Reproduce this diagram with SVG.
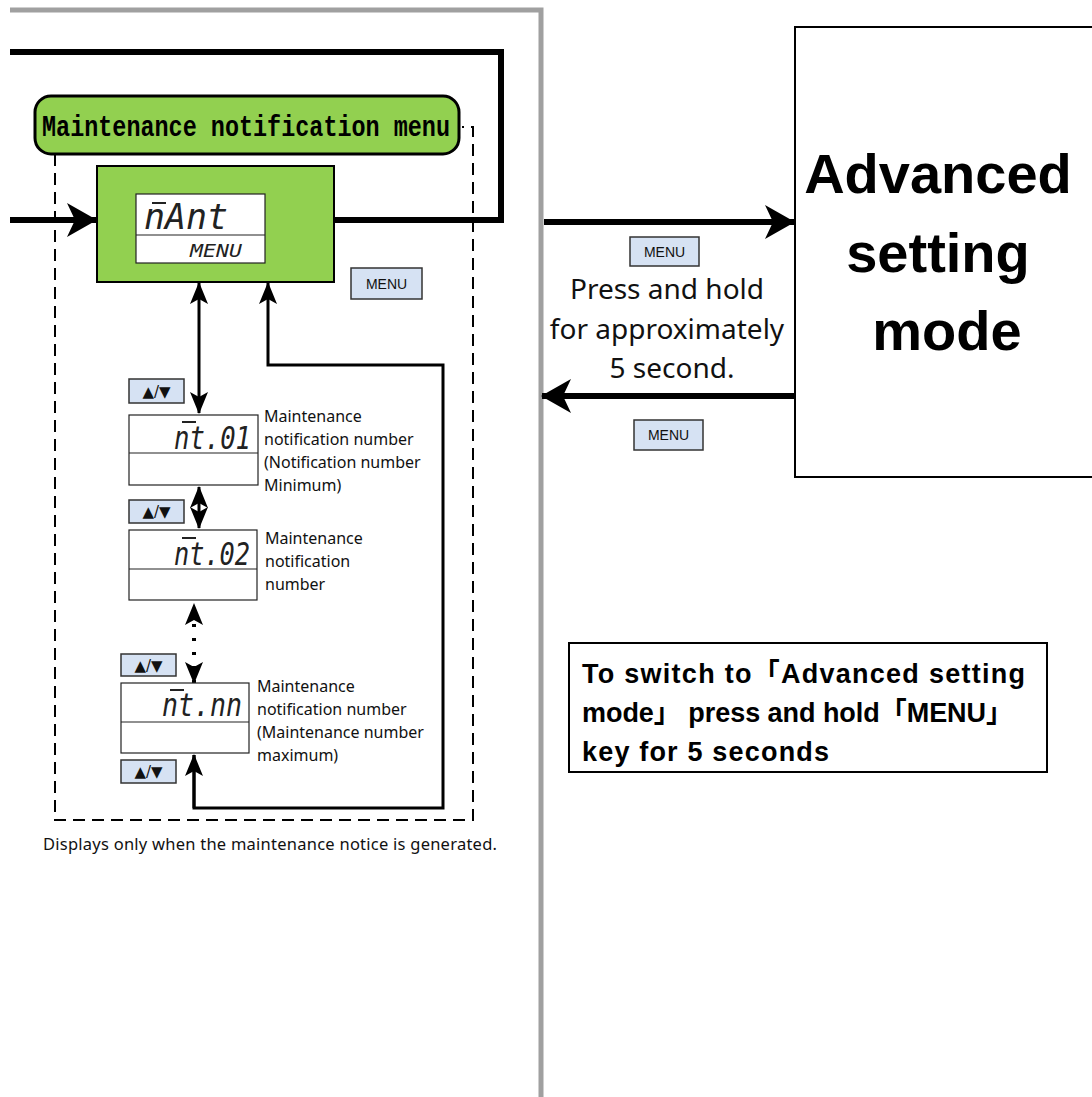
<svg xmlns="http://www.w3.org/2000/svg" width="1092" height="1097" viewBox="0 0 1092 1097">
<defs>
<style>
.lbl{font-family:"Noto Sans","Liberation Sans",sans-serif;font-size:16px;fill:#111}
.key{fill:#d6e2f3;stroke:#333;stroke-width:1.5}
.keyt{font-family:"Liberation Sans",Arial,sans-serif;font-size:14px;fill:#111;text-anchor:middle}
.ud{font-family:"DejaVu Sans",sans-serif;font-size:15px;fill:#111;text-anchor:middle}
.lcd{fill:#fff;stroke:#222;stroke-width:1.2}
.seg{font-family:"DejaVu Sans Mono",monospace;font-style:italic;fill:#222}
.bar{stroke:#222;stroke-width:2}
.thick{stroke:#000;stroke-width:6;fill:none}
.thin{stroke:#000;stroke-width:3;fill:none}
.dash{stroke:#000;stroke-width:2;fill:none;stroke-dasharray:12 7}
</style>
<marker id="big" viewBox="0 0 30 34" refX="29" refY="17" markerWidth="30" markerHeight="34" markerUnits="userSpaceOnUse" orient="auto">
<path d="M0,0 L30,17 L0,34 L8,17 Z" fill="#000"/>
</marker>
<marker id="small" viewBox="0 0 22 18" refX="21" refY="9" markerWidth="22" markerHeight="18" markerUnits="userSpaceOnUse" orient="auto-start-reverse">
<path d="M0,0 L22,9 L0,18 L5,9 Z" fill="#000"/>
</marker>
</defs>
<rect width="1092" height="1097" fill="#fff"/>

<path d="M10,10 H541 V1097" stroke="#a0a0a0" stroke-width="5" fill="none"/>

<g id="connectors">
<path class="thick" d="M10,52 H501 V220 H334"/>
<path class="thick" d="M10,220 H96" marker-end="url(#big)"/>
<path class="thin" d="M199,413 V283" marker-start="url(#small)" marker-end="url(#small)"/>
<path class="thin" d="M199,528 V487" marker-start="url(#small)" marker-end="url(#small)" stroke-width="4"/>
<path d="M194,683 V604" stroke="#000" stroke-width="4" stroke-dasharray="3 11" fill="none" marker-start="url(#small)" marker-end="url(#small)"/>
<path class="thin" d="M194,755 V808 H443 V365 H268 V283" marker-end="url(#small)"/>
<path class="thin" d="M194,808 V755" marker-end="url(#small)"/>
<path class="thick" d="M544,222 H794" marker-end="url(#big)"/>
<path class="thick" d="M795,396 H542" marker-end="url(#big)"/>
<path class="dash" d="M55,154 V820 H473 V127 H462"/>
</g>

<g id="menu-title">
<rect x="35" y="96" width="424" height="58" rx="16" fill="#92d050" stroke="#000" stroke-width="3"/>
<text x="42" y="136" font-family="'Liberation Mono','DejaVu Sans Mono',monospace" font-weight="bold" font-size="29" textLength="408" lengthAdjust="spacingAndGlyphs">Maintenance notification menu</text>
</g>

<g id="mant-node">
<rect x="97" y="166" width="237" height="116" fill="#92d050" stroke="#000" stroke-width="2"/>
<rect class="lcd" x="136" y="194" width="129" height="69"/>
<line x1="136" y1="235" x2="265" y2="235" stroke="#222" stroke-width="1.2"/>
<text class="seg" x="144" y="229" font-size="36" textLength="84" lengthAdjust="spacingAndGlyphs">nAnt</text>
<line class="bar" x1="152" y1="203" x2="166" y2="203"/>
<text class="seg" x="190" y="257" font-size="17" textLength="52" lengthAdjust="spacingAndGlyphs">MENU</text>
</g>

<g id="menu-key-1"><rect class="key" x="351" y="268" width="71" height="31"/><text class="keyt" x="386.5" y="289">MENU</text></g>

<g id="updown-1"><rect class="key" x="129" y="379" width="55" height="24"/><text class="ud" x="156.5" y="397">▲/▼</text></g>
<g id="updown-2"><rect class="key" x="129" y="500" width="55" height="23"/><text class="ud" x="156.5" y="517">▲/▼</text></g>
<g id="updown-3"><rect class="key" x="121" y="654" width="55" height="22"/><text class="ud" x="148.5" y="671">▲/▼</text></g>
<g id="updown-4"><rect class="key" x="121" y="760" width="55" height="23"/><text class="ud" x="148.5" y="777">▲/▼</text></g>

<g id="nt01">
<rect class="lcd" x="129" y="415" width="129" height="70"/>
<line x1="129" y1="453" x2="258" y2="453" stroke="#222" stroke-width="1.2"/>
<text class="seg" x="174" y="449" font-size="32" textLength="77" lengthAdjust="spacingAndGlyphs">nt.01</text>
<line class="bar" x1="182" y1="422" x2="196" y2="422"/>
<text class="lbl"><tspan x="264" y="422">Maintenance</tspan><tspan x="264" y="445">notification number</tspan><tspan x="264" y="468">(Notification number</tspan><tspan x="264" y="491">Minimum)</tspan></text>
</g>

<g id="nt02">
<rect class="lcd" x="129" y="530" width="128" height="70"/>
<line x1="129" y1="569" x2="257" y2="569" stroke="#222" stroke-width="1.2"/>
<text class="seg" x="174" y="565" font-size="32" textLength="76" lengthAdjust="spacingAndGlyphs">nt.02</text>
<line class="bar" x1="182" y1="538" x2="196" y2="538"/>
<text class="lbl"><tspan x="265" y="544">Maintenance</tspan><tspan x="265" y="567">notification</tspan><tspan x="265" y="590">number</tspan></text>
</g>

<g id="ntnn">
<rect class="lcd" x="121" y="683" width="128" height="70"/>
<line x1="121" y1="722" x2="249" y2="722" stroke="#222" stroke-width="1.2"/>
<text class="seg" x="162" y="716" font-size="32" textLength="80" lengthAdjust="spacingAndGlyphs">nt.nn</text>
<line class="bar" x1="170" y1="690" x2="184" y2="690"/>
<text class="lbl"><tspan x="257" y="692">Maintenance</tspan><tspan x="257" y="715">notification number</tspan><tspan x="257" y="738">(Maintenance number</tspan><tspan x="257" y="761">maximum)</tspan></text>
</g>

<text x="43" y="850" font-family="'Noto Sans','Liberation Sans',sans-serif" font-size="16.5" fill="#111" textLength="454">Displays only when the maintenance notice  is generated.</text>

<g id="menu-key-2"><rect class="key" x="630" y="237" width="69" height="29"/><text class="keyt" x="664.5" y="257">MENU</text></g>
<text font-family="'Noto Sans','Liberation Sans',sans-serif" font-size="28" fill="#111" text-anchor="middle"><tspan x="667" y="299">Press and hold</tspan><tspan x="667" y="339">for approximately</tspan><tspan x="672" y="378">5 second.</tspan></text>
<g id="menu-key-3"><rect class="key" x="634" y="420" width="69" height="30"/><text class="keyt" x="668.5" y="440">MENU</text></g>

<g id="advanced-mode">
<rect x="795" y="27" width="310" height="450" fill="#fff" stroke="#000" stroke-width="2"/>
<text font-family="'Liberation Sans',Arial,sans-serif" font-weight="bold" font-size="56" fill="#000" text-anchor="middle"><tspan x="938" y="193">Advanced</tspan><tspan x="938" y="272">setting</tspan><tspan x="947" y="350">mode</tspan></text>
</g>

<g id="note">
<rect x="569" y="643" width="478" height="129" fill="#fff" stroke="#000" stroke-width="2"/>
<text font-family="'Liberation Sans','Noto Sans CJK JP',sans-serif" font-weight="bold" font-size="27" fill="#000"><tspan x="582" y="683" textLength="443">To switch to「Advanced setting</tspan><tspan x="582" y="722" textLength="431">mode」 press and hold「MENU」</tspan><tspan x="582" y="761" textLength="247">key for 5 seconds</tspan></text>
</g>
</svg>
